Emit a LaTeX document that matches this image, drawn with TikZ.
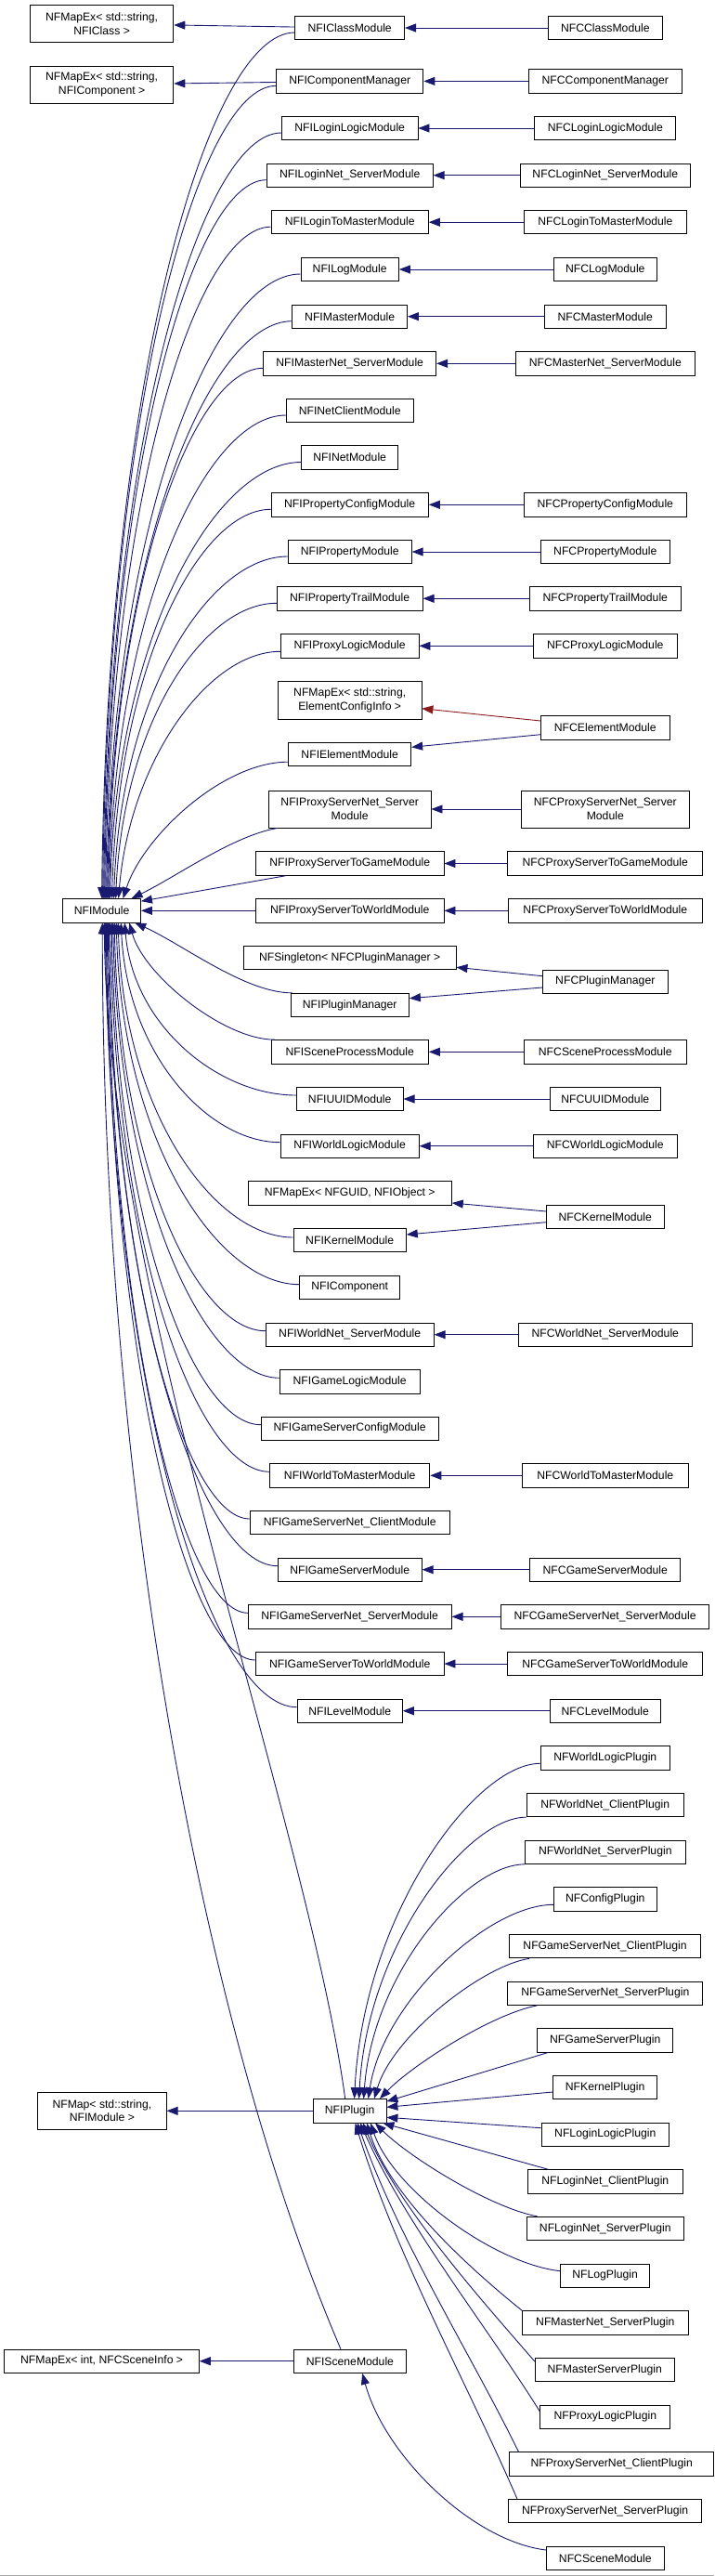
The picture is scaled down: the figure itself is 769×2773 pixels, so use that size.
\documentclass[tikz,border=0pt]{standalone}
\usepackage{fontspec}
\setmainfont{Liberation Sans}
\usetikzlibrary{arrows.meta,calc}
\definecolor{navy}{RGB}{25,25,112}
\definecolor{darkred}{RGB}{139,26,26}
\tikzset{
 box/.style={draw=black, line width=0.9pt, fill=white, inner sep=0pt, minimum height=25.4pt, align=center, font=\fontsize{12.2pt}{14.5pt}\selectfont},
 lnk/.style={draw=navy, line width=0.9pt, -{Triangle[length=12pt,width=9pt]}},
 rlnk/.style={lnk, draw=darkred},
}
\newcommand\mkbox[6][]{\node[box,minimum width=#5pt,#1] (#2) at (#3,#4) {#6};}
\newcommand\fanlink[6]{\draw[lnk] let \p1=(#1), \p2=(#2) in (\p1) .. controls ({\x1-#3*(\x1-\x2)},{\y1+#4*(\y2-\y1)}) and ({\x2+#6*(\x1-\x2)},{\y2+#5*(\y1-\y2)}) .. (\p2);}
\begin{document}
\begin{tikzpicture}[x=1pt,y=-1pt]
\fill[white] (0,0) rectangle (769,2773);
\useasboundingbox (0,0) rectangle (769,2773);
\draw[gray!70, line width=1pt] (0,2772.4) -- (769,2772.4);
% left column
\mkbox[minimum height=40pt]{mapClass}{109.6}{25.7}{154.5}{NFMapEx< std::string,\\NFIClass >}
\mkbox[minimum height=40pt]{mapComp}{109.6}{91}{154.5}{NFMapEx< std::string,\\NFIComponent >}
\mkbox{NFIModule}{109.6}{980.3}{83.8}{NFIModule}
\mkbox[minimum height=40pt]{mapModule}{109.9}{2272.3}{138.3}{NFMap< std::string,\\NFIModule >}
\mkbox{mapScene}{109.6}{2541.7}{209.4}{NFMapEx< int, NFCSceneInfo >}
% middle column
\mkbox{iClass}{376.7}{30}{117.7}{NFIClassModule}
\mkbox{iCompMgr}{376.7}{87.4}{158.4}{NFIComponentManager}
\mkbox{iLoginLogic}{376.7}{138}{146.6}{NFILoginLogicModule}
\mkbox{iLoginNetS}{376.7}{188.7}{179}{NFILoginNet\_ServerModule}
\mkbox{iLoginToMaster}{376.7}{239.2}{169.2}{NFILoginToMasterModule}
\mkbox{iLog}{376.7}{290}{105.4}{NFILogModule}
\mkbox{iMaster}{376.7}{340.7}{123.6}{NFIMasterModule}
\mkbox{iMasterNetS}{376.7}{391.3}{185.8}{NFIMasterNet\_ServerModule}
\mkbox{iNetClient}{376.7}{442}{136.8}{NFINetClientModule}
\mkbox{iNet}{376.7}{492.5}{103.9}{NFINetModule}
\mkbox{iPropCfg}{376.7}{543.3}{169.2}{NFIPropertyConfigModule}
\mkbox{iProp}{376.7}{594}{133}{NFIPropertyModule}
\mkbox{iPropTrail}{376.7}{644.3}{156.9}{NFIPropertyTrailModule}
\mkbox{iProxyLogic}{376.7}{695.3}{148.6}{NFIProxyLogicModule}
\mkbox[minimum height=40.3pt]{mapElem}{376.7}{753.8}{154.5}{NFMapEx< std::string,\\ElementConfigInfo >}
\mkbox{iElem}{376.7}{812.2}{132}{NFIElementModule}
\mkbox[minimum height=40pt]{iPSNetS}{376.7}{871}{174.6}{NFIProxyServerNet\_Server\\Module}
\mkbox{iPSToGame}{376.7}{929.5}{202.6}{NFIProxyServerToGameModule}
\mkbox{iPSToWorld}{376.7}{980.3}{202.6}{NFIProxyServerToWorldModule}
\mkbox{singleton}{376.7}{1031}{228.6}{NFSingleton< NFCPluginManager >}
\mkbox{iPluginMgr}{376.7}{1082}{127.5}{NFIPluginManager}
\mkbox{iSceneProc}{376.7}{1132.3}{169.2}{NFISceneProcessModule}
\mkbox{iUUID}{376.7}{1183}{114.7}{NFIUUIDModule}
\mkbox{iWorldLogic}{376.7}{1233.7}{149.1}{NFIWorldLogicModule}
\mkbox{mapGUID}{376.7}{1284.3}{219.2}{NFMapEx< NFGUID, NFIObject >}
\mkbox{iKernel}{376.7}{1335}{121.2}{NFIKernelModule}
\mkbox{iComponent}{376.7}{1385.7}{107.9}{NFIComponent}
\mkbox{iWorldNetS}{376.7}{1436.7}{181}{NFIWorldNet\_ServerModule}
\mkbox{iGameLogic}{376.7}{1487.3}{151.1}{NFIGameLogicModule}
\mkbox{iGSConfig}{376.7}{1537.7}{190.8}{NFIGameServerConfigModule}
\mkbox{iWorldToMaster}{376.7}{1588.3}{172.2}{NFIWorldToMasterModule}
\mkbox{iGSNetC}{376.7}{1639}{214.8}{NFIGameServerNet\_ClientModule}
\mkbox{iGameServer}{376.7}{1689.7}{154.9}{NFIGameServerModule}
\mkbox{iGSNetS}{376.7}{1740.3}{218.7}{NFIGameServerNet\_ServerModule}
\mkbox{iGSToWorld}{376.7}{1791}{202.6}{NFIGameServerToWorldModule}
\mkbox{iLevel}{376.7}{1841.7}{113.2}{NFILevelModule}
\mkbox{iPlugin}{376.7}{2272.3}{78.5}{NFIPlugin}
\mkbox{iScene}{376.9}{2541.7}{121.2}{NFISceneModule}
% right column
\mkbox{cClass}{651.8}{30}{122.6}{NFCClassModule}
\mkbox{cCompMgr}{651.8}{87.4}{164.8}{NFCComponentManager}
\mkbox{cLoginLogic}{651.8}{138}{152}{NFCLoginLogicModule}
\mkbox{cLoginNetS}{651.8}{188.7}{183.5}{NFCLoginNet\_ServerModule}
\mkbox{cLoginToMaster}{651.8}{239.2}{174.6}{NFCLoginToMasterModule}
\mkbox{cLog}{651.8}{290}{110.8}{NFCLogModule}
\mkbox{cMaster}{651.8}{340.7}{130.4}{NFCMasterModule}
\mkbox{cMasterNetS}{651.8}{391.3}{193.2}{NFCMasterNet\_ServerModule}
\mkbox{cPropCfg}{651.8}{543.3}{174.6}{NFCPropertyConfigModule}
\mkbox{cProp}{651.8}{594}{138.4}{NFCPropertyModule}
\mkbox{cPropTrail}{651.8}{644.3}{162.8}{NFCPropertyTrailModule}
\mkbox{cProxyLogic}{651.8}{695.3}{154.5}{NFCProxyLogicModule}
\mkbox{cElem}{651.8}{783.3}{138.4}{NFCElementModule}
\mkbox[minimum height=40pt]{cPSNetS}{651.8}{871}{181.5}{NFCProxyServerNet\_Server\\Module}
\mkbox{cPSToGame}{651.8}{929.5}{209.9}{NFCProxyServerToGameModule}
\mkbox{cPSToWorld}{651.8}{980.3}{208.5}{NFCProxyServerToWorldModule}
\mkbox{cPluginMgr}{651.8}{1056.7}{134.4}{NFCPluginManager}
\mkbox{cSceneProc}{651.8}{1132.3}{174.6}{NFCSceneProcessModule}
\mkbox{cUUID}{651.8}{1183}{119.6}{NFCUUIDModule}
\mkbox{cWorldLogic}{651.8}{1233.7}{154.5}{NFCWorldLogicModule}
\mkbox{cKernel}{651.8}{1309.7}{126.5}{NFCKernelModule}
\mkbox{cWorldNetS}{651.8}{1436.7}{186.4}{NFCWorldNet\_ServerModule}
\mkbox{cWorldToMaster}{651.8}{1588.3}{178.5}{NFCWorldToMasterModule}
\mkbox{cGameServer}{651.8}{1689.7}{161.8}{NFCGameServerModule}
\mkbox{cGSNetS}{651.6}{1740.3}{224.1}{NFCGameServerNet\_ServerModule}
\mkbox{cGSToWorld}{651.8}{1791}{209.9}{NFCGameServerToWorldModule}
\mkbox{cLevel}{651.8}{1841.7}{118.7}{NFCLevelModule}
\mkbox{pWorldLogic}{651.8}{1892.3}{139.3}{NFWorldLogicPlugin}
\mkbox{pWorldNetC}{651.8}{1943}{169.6}{NFWorldNet\_ClientPlugin}
\mkbox{pWorldNetS}{651.8}{1993.7}{172.6}{NFWorldNet\_ServerPlugin}
\mkbox{pConfig}{651.8}{2044.3}{110.8}{NFConfigPlugin}
\mkbox{pGSNetC}{651.6}{2095.2}{206.5}{NFGameServerNet\_ClientPlugin}
\mkbox{pGSNetS}{651.8}{2145.7}{209.9}{NFGameServerNet\_ServerPlugin}
\mkbox{pGameServer}{651.8}{2196.3}{146.2}{NFGameServerPlugin}
\mkbox{pKernel}{651.6}{2247}{112.3}{NFKernelPlugin}
\mkbox{pLoginLogic}{651.8}{2297.7}{137.4}{NFLoginLogicPlugin}
\mkbox{pLoginNetC}{651.8}{2348.3}{166.8}{NFLoginNet\_ClientPlugin}
\mkbox{pLoginNetS}{651.8}{2399}{169.6}{NFLoginNet\_ServerPlugin}
\mkbox{pLog}{651.6}{2449.7}{95.7}{NFLogPlugin}
\mkbox{pMasterNetS}{651.8}{2500.3}{178.5}{NFMasterNet\_ServerPlugin}
\mkbox{pMasterServer}{651.3}{2551}{150}{NFMasterServerPlugin}
\mkbox{pProxyLogic}{651.8}{2601.7}{140.2}{NFProxyLogicPlugin}
\mkbox{pPSNetC}{658.7}{2652.3}{219.7}{NFProxyServerNet\_ClientPlugin}
\mkbox{pPSNetS}{651.6}{2703}{208.5}{NFProxyServerNet\_ServerPlugin}
\mkbox{cScene}{651.8}{2753.7}{126.5}{NFCSceneModule}
% edges to left-column parents
\draw[lnk] (iClass) -- (mapClass);
\draw[lnk] (iCompMgr) -- (mapComp);
\draw[lnk] (iPlugin) -- (mapModule);
\draw[lnk] (iScene) -- (mapScene);
% NFC -> NFI
\foreach \a/\b in {cClass/iClass, cCompMgr/iCompMgr, cLoginLogic/iLoginLogic, cLoginNetS/iLoginNetS, cLoginToMaster/iLoginToMaster, cLog/iLog, cMaster/iMaster, cMasterNetS/iMasterNetS, cPropCfg/iPropCfg, cProp/iProp, cPropTrail/iPropTrail, cProxyLogic/iProxyLogic, cPSNetS/iPSNetS, cPSToGame/iPSToGame, cPSToWorld/iPSToWorld, cSceneProc/iSceneProc, cUUID/iUUID, cWorldLogic/iWorldLogic, cWorldNetS/iWorldNetS, cWorldToMaster/iWorldToMaster, cGameServer/iGameServer, cGSNetS/iGSNetS, cGSToWorld/iGSToWorld, cLevel/iLevel}
  \draw[lnk] (\a) -- (\b);
\draw[rlnk] ([yshift=7.3pt]cElem.west) -- ([yshift=-8.9pt]mapElem.east);
\draw[lnk] ([yshift=-7.4pt]cElem.west) -- ([yshift=7.9pt]iElem.east);
\draw[lnk] ([yshift=6pt]cPluginMgr.west) -- ([yshift=-10.3pt]singleton.east);
\draw[lnk] ([yshift=-6.3pt]cPluginMgr.west) -- ([yshift=7.3pt]iPluginMgr.east);
\draw[lnk] ([yshift=5.7pt]cKernel.west) -- ([yshift=-10.7pt]mapGUID.east);
\draw[lnk] ([yshift=-6pt]cKernel.west) -- ([yshift=6pt]iKernel.east);
% NFI* -> NFIModule (from above)
\fanlink{[yshift=-5pt]iClass.west}{[xshift=42.3pt]NFIModule.north west}{.45}{0}{.6}{.03}
\fanlink{[yshift=-5pt]iCompMgr.west}{[xshift=43.3pt]NFIModule.north west}{.45}{0}{.6}{.03}
\fanlink{[yshift=-5pt]iLoginLogic.west}{[xshift=44.3pt]NFIModule.north west}{.45}{0}{.6}{.03}
\fanlink{[yshift=-5pt]iLoginNetS.west}{[xshift=45.3pt]NFIModule.north west}{.45}{0}{.6}{.03}
\fanlink{[yshift=-5pt]iLoginToMaster.west}{[xshift=46.3pt]NFIModule.north west}{.45}{0}{.6}{.03}
\fanlink{[yshift=-5pt]iLog.west}{[xshift=47.3pt]NFIModule.north west}{.45}{0}{.6}{.03}
\fanlink{[yshift=-5pt]iMaster.west}{[xshift=48.3pt]NFIModule.north west}{.45}{0}{.6}{.03}
\fanlink{[yshift=-5pt]iMasterNetS.west}{[xshift=49.3pt]NFIModule.north west}{.45}{0}{.6}{.03}
\fanlink{[yshift=-5pt]iNetClient.west}{[xshift=50.3pt]NFIModule.north west}{.45}{0}{.6}{.03}
\fanlink{[yshift=-5pt]iNet.west}{[xshift=51.3pt]NFIModule.north west}{.45}{0}{.6}{.03}
\fanlink{[yshift=-5pt]iPropCfg.west}{[xshift=53.3pt]NFIModule.north west}{.45}{0}{.6}{.04}
\fanlink{[yshift=-5pt]iProp.west}{[xshift=55.3pt]NFIModule.north west}{.45}{0}{.6}{.04}
\fanlink{[yshift=-5pt]iPropTrail.west}{[xshift=57.3pt]NFIModule.north west}{.45}{0}{.6}{.05}
\fanlink{[yshift=-6pt]iProxyLogic.west}{[xshift=60.3pt]NFIModule.north west}{.45}{0}{.55}{.07}
\fanlink{[yshift=-8pt]iElem.west}{[xshift=65.3pt]NFIModule.north west}{.4}{0}{.45}{.12}
\fanlink{[xshift=10pt]iPSNetS.south west}{[xshift=74.3pt]NFIModule.north west}{.3}{.1}{.3}{.3}
\draw[lnk] ([xshift=33pt]iPSToGame.south west) -- ([yshift=-3pt]NFIModule.north east);
\draw[lnk] (iPSToWorld) -- (NFIModule);
% NFI* -> NFIModule (from below)
\fanlink{[xshift=2pt]iPluginMgr.north west}{[xshift=78pt]NFIModule.south west}{.3}{0}{.3}{.3}
\fanlink{[xshift=4pt]iSceneProc.north west}{[xshift=72pt]NFIModule.south west}{.35}{0}{.45}{.1}
\fanlink{[yshift=4pt]iUUID.west}{[xshift=67pt]NFIModule.south west}{.45}{0}{.6}{.05}
\fanlink{[yshift=4pt]iWorldLogic.west}{[xshift=63pt]NFIModule.south west}{.45}{0}{.6}{.04}
\fanlink{[yshift=3pt]iKernel.west}{[xshift=60pt]NFIModule.south west}{.45}{0}{.6}{.03}
\fanlink{[yshift=3pt]iComponent.west}{[xshift=58pt]NFIModule.south west}{.45}{0}{.6}{.03}
\fanlink{[yshift=4pt]iWorldNetS.west}{[xshift=56pt]NFIModule.south west}{.45}{0}{.6}{.03}
\fanlink{[yshift=4pt]iGameLogic.west}{[xshift=54.5pt]NFIModule.south west}{.45}{0}{.6}{.03}
\fanlink{[yshift=4pt]iGSConfig.west}{[xshift=53pt]NFIModule.south west}{.45}{0}{.6}{.03}
\fanlink{[yshift=4pt]iWorldToMaster.west}{[xshift=51.5pt]NFIModule.south west}{.45}{0}{.6}{.03}
\fanlink{[yshift=4pt]iGSNetC.west}{[xshift=50pt]NFIModule.south west}{.45}{0}{.6}{.03}
\fanlink{[yshift=4pt]iGameServer.west}{[xshift=49pt]NFIModule.south west}{.45}{0}{.6}{.03}
\fanlink{[yshift=4pt]iGSNetS.west}{[xshift=48pt]NFIModule.south west}{.45}{0}{.6}{.03}
\fanlink{[yshift=4pt]iGSToWorld.west}{[xshift=47pt]NFIModule.south west}{.45}{0}{.6}{.03}
\fanlink{[yshift=4pt]iLevel.west}{[xshift=46pt]NFIModule.south west}{.45}{0}{.6}{.03}
\fanlink{[xshift=-5pt]iPlugin.north}{[xshift=45pt]NFIModule.south west}{.157}{.237}{.316}{.015}
\fanlink{[xshift=-10pt]iScene.north}{[xshift=43pt]NFIModule.south west}{.585}{.228}{.392}{0}
% plugins -> NFIPlugin
\fanlink{[yshift=-6pt]pWorldLogic.west}{[xshift=44.6pt]iPlugin.north west}{.35}{0}{.55}{.05}
\fanlink{pWorldNetC.south west}{[xshift=49.6pt]iPlugin.north west}{.35}{0}{.55}{.05}
\fanlink{pWorldNetS.south west}{[xshift=54.6pt]iPlugin.north west}{.35}{0}{.55}{.06}
\fanlink{[yshift=-6pt]pConfig.west}{[xshift=59.6pt]iPlugin.north west}{.35}{0}{.5}{.08}
\fanlink{[xshift=22pt]pGSNetC.south west}{[xshift=66pt]iPlugin.north west}{.3}{.05}{.45}{.12}
\fanlink{[xshift=32pt]pGSNetS.south west}{[xshift=72pt]iPlugin.north west}{.3}{.1}{.35}{.2}
\draw[lnk] ([xshift=12pt]pGameServer.south west) -- ([yshift=-3pt]iPlugin.north east);
\draw[lnk] ([yshift=-5pt]pKernel.west) -- ([yshift=4pt]iPlugin.east);
\draw[lnk] ([yshift=7pt]pLoginLogic.west) -- ([yshift=-7pt]iPlugin.east);
\draw[lnk] ([xshift=22pt]pLoginNetC.north west) -- ([xshift=-4pt]iPlugin.south east);
\fanlink{[xshift=12pt]pLoginNetS.north west}{[xshift=67pt]iPlugin.south west}{.3}{.1}{.35}{.2}
\fanlink{[yshift=5pt]pLog.west}{[xshift=62pt]iPlugin.south west}{.35}{.05}{.45}{.12}
\fanlink{pMasterNetS.north west}{[xshift=58pt]iPlugin.south west}{.3}{.2}{.4}{.15}
\fanlink{[yshift=9pt]pMasterServer.west}{[xshift=54pt]iPlugin.south west}{.3}{.25}{.35}{.2}
\fanlink{[yshift=6pt]pProxyLogic.west}{[xshift=51pt]iPlugin.south west}{.3}{.3}{.35}{.25}
\fanlink{[xshift=10pt]pPSNetC.north west}{[xshift=48pt]iPlugin.south west}{.3}{.3}{.35}{.25}
\fanlink{[xshift=10pt]pPSNetS.north west}{[xshift=45.6pt]iPlugin.south west}{.3}{.3}{.35}{.25}
% NFCSceneModule -> NFISceneModule
\fanlink{[yshift=8.7pt]cScene.west}{[xshift=13.3pt]iScene.south}{.4}{.05}{.47}{.125}
\end{tikzpicture}
\end{document}
